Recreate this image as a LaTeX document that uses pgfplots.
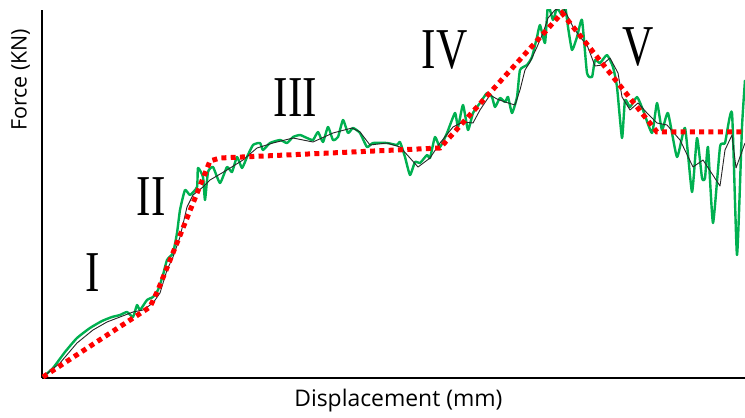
\documentclass[border=0pt]{standalone}
\usepackage{fontspec}
\setmainfont{Open Sans}
\newfontfamily\romanfont{Liberation Serif}
\usepackage{pgfplots}
\pgfplotsset{compat=1.18}
\definecolor{curvegreen}{HTML}{00B050}
\definecolor{dotred}{HTML}{FF0000}

% measured curve (noisy)
\pgfplotstableread{
x y
43 1
53 10
65 26
77 40
90 50
102 57
112 61
120 63
127 66
133 61
137 73
140 68
147 78
153 81
158 88
163 103
167 118
173 125
177 145
180 168
185 188
190 183
197 191
198 210
203 201
205 178
208 206
213 211
220 195
227 211
232 206
237 221
242 210
247 221
253 233
260 235
263 228
270 235
280 238
287 235
293 241
300 243
307 240
313 238
318 246
323 236
328 251
333 238
338 241
343 258
348 245
353 250
360 245
367 231
373 235
387 235
397 233
400 236
405 221
410 203
415 216
420 215
427 223
430 220
435 241
440 231
447 245
455 265
458 251
463 273
468 248
473 265
480 275
487 285
492 281
495 271
500 280
505 276
508 281
512 265
517 281
520 308
527 313
532 321
537 341
540 353
545 335
548 373
553 358
557 370
562 363
565 373
568 351
572 328
577 341
582 358
587 305
592 301
595 318
600 315
607 323
613 311
617 291
622 240
625 278
630 271
637 281
643 268
652 245
657 275
662 248
668 265
677 221
685 250
692 186
697 240
702 200
705 200
708 231
713 155
720 231
725 235
732 265
737 123
742 251
745 298
}\rawdata

% smoothed curve
\pgfplotstableread{
x y
43 1
60 15
77 35
93 48
107 56
120 61
133 66
143 68
153 75
160 85
167 108
173 121
180 141
187 171
193 183
203 191
210 198
227 208
243 218
257 230
273 235
293 240
313 236
333 245
352 250
360 246
370 233
387 235
400 231
410 220
418 211
430 220
440 235
453 251
463 256
473 255
480 268
490 283
497 279
505 276
515 273
520 288
525 308
530 316
537 331
543 345
548 360
555 368
563 371
568 361
573 351
580 341
587 333
595 312
602 313
610 320
618 305
622 281
630 268
638 275
647 265
657 255
667 253
680 238
693 211
703 218
720 192
725 228
732 243
736 210
745 235
}\smoothdata

% piecewise stages
\pgfplotstableread{
x y
43 1
150 71
158 88
210 217
220 220
440 230
562 365
657 246
745 246
}\stagedata

\begin{document}
\begin{tikzpicture}
\begin{axis}[
  scale only axis, width=703bp, height=368bp,
  xmin=42, xmax=745, ymin=0, ymax=368,
  axis lines=left,
  axis line style={-, line width=1.6bp},
  xtick=\empty, ytick=\empty,
  xlabel={Displacement (mm)},
  ylabel={Force (KN)},
  xlabel style={font=\fontsize{23}{23}\selectfont, at={(axis description cs:0.507,0)}, anchor=north, yshift=-8bp},
  ylabel style={font=\fontsize{21.5}{21.5}\selectfont, at={(axis description cs:-0.012,0.81)}, anchor=south},
]
\addplot[curvegreen, line width=2.4bp, line join=round, smooth, tension=0.3] table {\rawdata};
\addplot[black!85, line width=0.9bp, line join=round] table {\smoothdata};
\addplot[dotred, line width=5bp, dash pattern=on 5bp off 4.3bp] table {\stagedata};
\begin{scope}[every node/.style={font=\romanfont\fontsize{58}{58}\selectfont, xscale=0.75, inner sep=0pt}]
\node at (axis cs:92.5,105.5) {I};
\node at (axis cs:151,181.5) {II};
\node at (axis cs:295.5,280.5) {III};
\node at (axis cs:444.5,328) {IV};
\node at (axis cs:638,331) {V};
\end{scope}
\end{axis}
\pgfresetboundingbox
\path (-42bp,-40bp) rectangle (703bp,378bp);
\end{tikzpicture}
\end{document}
